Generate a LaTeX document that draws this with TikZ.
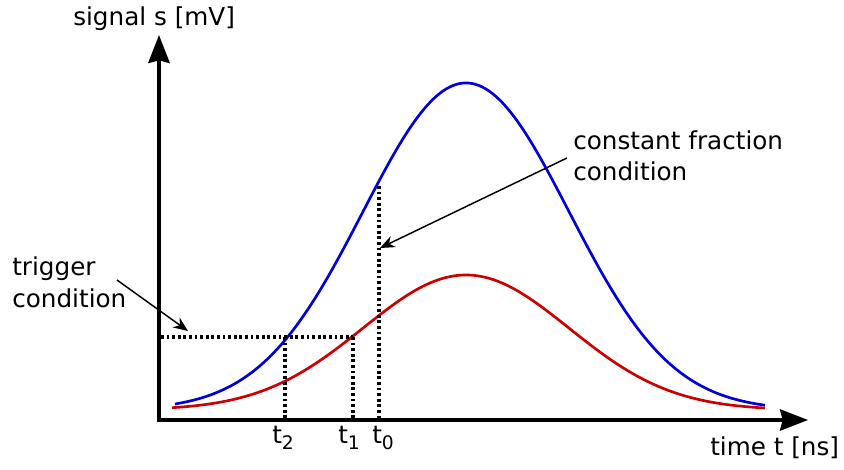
\documentclass[tikz,border=0pt]{standalone}
\usepackage{fontspec}
\setmainfont{DejaVu Sans}
\usetikzlibrary{arrows.meta}

\tikzset{
  axis/.style={line width=2.4pt, -{Stealth[length=21pt, width=16pt, inset=2pt]}},
  pointer/.style={line width=1.1pt, -{Stealth[length=11pt, width=9pt]}},
  guide/.style={line width=2.4pt, dash pattern=on 2.1pt off 2.1pt},
  pulse/.style={line width=2pt, smooth},
  lbl/.style={anchor=base west, inner sep=0pt, font=\fontsize{18.5}{22}\selectfont},
}
\newcommand{\tsub}[1]{t\raisebox{-0.45ex}{\fontsize{14}{14}\selectfont #1}}

\begin{document}
\begin{tikzpicture}[x=0.75pt, y=-0.75pt]
	\useasboundingbox (0,0) rectangle (844,469);
	% axes
	\coordinate (o) at (159,420);
	\coordinate (ytip) at (159,35);
	\coordinate (xtip) at (808,420);
	\draw[axis] ([yshift=-1.2pt]o) -- (ytip);
	\draw[axis] ([xshift=-1.2pt]o) -- (xtip);
	\node[lbl] (ylab) at (73,25) {signal s [mV]};
	\node[lbl] (xlab) at (710,455) {time t [ns]};
	% pulses
	\draw[pulse, blue!85!black] plot[domain=175:765, samples=120]
		(\x, {410-327*exp(-0.5*((\x-466)/103)^2)});
	\draw[pulse, red!80!black] plot[domain=172:765, samples=120]
		(\x, {410-135*exp(-0.5*((\x-466)/103)^2)});
	% crossings
	\coordinate (trig) at (161,337);
	\coordinate (c2) at (285,337);
	\coordinate (c1) at (353,337);
	\coordinate (c0) at (379,186);
	\draw[guide] (trig) -- (c1);
	\draw[guide] (c2) -- (c2 |- o);
	\draw[guide] (c1) -- (c1 |- o);
	\draw[guide] (c0) -- (c0 |- o);
	\node[lbl] (t2) at (272,443) {\tsub{2}};
	\node[lbl] (t1) at (338,443) {\tsub{1}};
	\node[lbl] (t0) at (372,443) {\tsub{0}};
	% annotations
	\node[lbl] (trg) at (12,275) {trigger};
	\node[lbl] (trgb) at (12,307) {condition};
	\node[lbl] (cfd) at (573,149) {constant fraction};
	\node[lbl] (cfdb) at (573,180) {condition};
	\coordinate (trgstart) at (117,280);
	\coordinate (trgend) at (188,331);
	\coordinate (cfdstart) at (567,158);
	\coordinate (cfdend) at (380,248);
	\draw[pointer] (trgstart) -- (trgend);
	\draw[pointer] (cfdstart) -- (cfdend);
\end{tikzpicture}
\end{document}
